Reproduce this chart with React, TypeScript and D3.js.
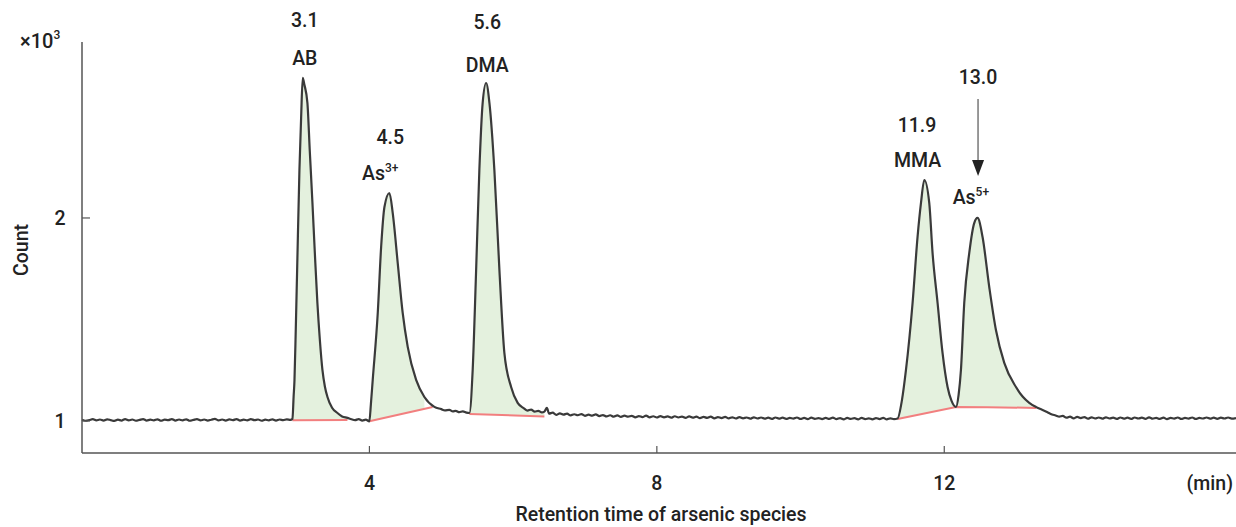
import React from "react";
import * as d3 from "d3";

// ---------- DATA ----------
// Chromatogram trace: [retention time (min), count (x10^3)]
const trace: [number, number][] = [
  [0.0, 1.006], [0.05, 1.001], [0.1, 1.004], [0.15, 1.009], [0.2, 1.003], [0.25, 1.007], [0.3, 1.002],
  [0.35, 1.008], [0.4, 1.004], [0.45, 1.0], [0.5, 1.006], [0.55, 1.002], [0.6, 1.009], [0.65, 1.003],
  [0.7, 1.007], [0.75, 1.001], [0.8, 1.005], [0.85, 1.009], [0.9, 1.002], [0.95, 1.006], [1.0, 1.003],
  [1.05, 1.008], [1.1, 1.001], [1.15, 1.006], [1.2, 1.004], [1.25, 1.009], [1.3, 1.002], [1.35, 1.007],
  [1.4, 1.003], [1.45, 1.008], [1.5, 1.001], [1.55, 1.005], [1.6, 1.009], [1.65, 1.003], [1.7, 1.007],
  [1.75, 1.002], [1.8, 1.006], [1.85, 1.01], [1.9, 1.003], [1.95, 1.007], [2.0, 1.002], [2.05, 1.008],
  [2.1, 1.004], [2.15, 1.009], [2.2, 1.002], [2.25, 1.006], [2.3, 1.003], [2.35, 1.009], [2.4, 1.004],
  [2.45, 1.007], [2.5, 1.001], [2.55, 1.006], [2.6, 1.003], [2.65, 1.008], [2.7, 1.002], [2.75, 1.007],
  [2.8, 1.004], [2.85, 1.008], [2.9, 1.005],
  // AB
  [2.929, 1.01], [2.945, 1.12], [2.957, 1.2], [2.975, 1.45], [2.994, 1.744], [3.026, 2.236], [3.05, 2.5],
  [3.072, 2.69], [3.096, 2.655], [3.137, 2.567], [3.17, 2.33], [3.207, 2.074], [3.24, 1.83],
  [3.276, 1.581], [3.31, 1.4], [3.346, 1.251], [3.38, 1.17], [3.416, 1.118], [3.48, 1.065],
  [3.555, 1.039], [3.62, 1.022], [3.694, 1.015], [3.75, 1.008], [3.8, 1.004], [3.85, 1.009],
  [3.9, 1.002], [3.95, 1.006], [3.999, 0.998],
  // As3+
  [4.02, 1.08], [4.046, 1.202], [4.116, 1.532], [4.163, 1.857], [4.209, 2.054], [4.278, 2.123],
  [4.324, 2.025], [4.394, 1.778], [4.463, 1.532], [4.533, 1.365], [4.65, 1.202],
  [4.765, 1.118], [4.904, 1.069], [5.0, 1.058], [5.05, 1.052], [5.113, 1.054], [5.16, 1.047],
  [5.2, 1.05], [5.25, 1.043], [5.3, 1.047], [5.35, 1.041], [5.391, 1.039],
  // DMA
  [5.437, 1.251], [5.485, 1.744], [5.53, 2.236], [5.576, 2.567], [5.624, 2.665],
  [5.67, 2.567], [5.739, 2.236], [5.809, 1.744], [5.878, 1.335], [5.972, 1.167],
  [6.063, 1.089], [6.15, 1.062], [6.2, 1.051], [6.25, 1.056], [6.3, 1.046], [6.35, 1.05],
  [6.4, 1.042], [6.435, 1.046], [6.47, 1.064], [6.5, 1.036], [6.55, 1.041], [6.6, 1.03],
  [6.65, 1.037], [6.7, 1.031], [6.75, 1.036], [6.8, 1.027], [6.85, 1.033], [6.9, 1.028],
  [6.95, 1.034], [7.0, 1.025], [7.05, 1.031], [7.1, 1.026], [7.15, 1.032], [7.2, 1.024],
  [7.25, 1.029], [7.3, 1.022], [7.35, 1.028], [7.4, 1.021], [7.45, 1.027], [7.5, 1.02],
  [7.55, 1.026], [7.6, 1.021], [7.65, 1.025], [7.7, 1.018], [7.75, 1.024], [7.8, 1.019],
  [7.85, 1.026], [7.9, 1.018], [7.95, 1.023], [8.0, 1.017], [8.05, 1.024], [8.1, 1.018],
  [8.15, 1.022], [8.2, 1.016], [8.25, 1.023], [8.3, 1.017], [8.35, 1.021], [8.4, 1.015],
  [8.45, 1.022], [8.5, 1.016], [8.55, 1.021], [8.6, 1.014], [8.65, 1.02], [8.7, 1.015],
  [8.75, 1.021], [8.8, 1.013], [8.85, 1.019], [8.9, 1.014], [8.95, 1.02], [9.0, 1.013],
  [9.05, 1.018], [9.1, 1.012], [9.15, 1.019], [9.2, 1.013], [9.25, 1.017], [9.3, 1.011],
  [9.35, 1.018], [9.4, 1.012], [9.45, 1.017], [9.5, 1.011], [9.55, 1.016], [9.6, 1.01],
  [9.65, 1.017], [9.7, 1.011], [9.75, 1.016], [9.8, 1.01], [9.85, 1.015], [9.9, 1.011],
  [9.95, 1.017], [10.0, 1.01], [10.05, 1.015], [10.1, 1.009], [10.15, 1.016], [10.2, 1.01],
  [10.25, 1.014], [10.3, 1.009], [10.35, 1.015], [10.4, 1.01], [10.45, 1.016], [10.5, 1.009],
  [10.55, 1.014], [10.6, 1.008], [10.65, 1.015], [10.7, 1.01], [10.75, 1.014], [10.8, 1.008],
  [10.85, 1.015], [10.9, 1.009], [10.95, 1.013], [11.0, 1.008], [11.05, 1.014], [11.1, 1.009],
  [11.15, 1.015], [11.2, 1.008], [11.25, 1.013], [11.3, 1.009], [11.35, 1.012],
  // MMA
  [11.41, 1.1], [11.467, 1.251], [11.559, 1.581], [11.628, 1.906], [11.676, 2.074], [11.722, 2.187],
  [11.791, 2.074], [11.837, 1.828], [11.907, 1.581], [11.976, 1.335], [12.046, 1.167],
  [12.1, 1.1], [12.163, 1.069],
  // As5+
  [12.2, 1.13], [12.232, 1.251], [12.278, 1.581], [12.348, 1.828], [12.417, 1.975], [12.463, 2.0],
  [12.533, 1.906], [12.626, 1.66], [12.719, 1.448], [12.835, 1.286], [12.998, 1.167],
  [13.09, 1.12], [13.183, 1.089], [13.28, 1.068], [13.367, 1.054], [13.43, 1.044], [13.5, 1.032],
  [13.55, 1.027], [13.6, 1.021], [13.65, 1.025], [13.7, 1.016], [13.75, 1.021], [13.8, 1.013],
  [13.85, 1.02], [13.9, 1.014], [13.95, 1.019], [14.0, 1.011], [14.05, 1.018], [14.1, 1.012],
  [14.15, 1.017], [14.2, 1.011], [14.25, 1.018], [14.3, 1.012], [14.35, 1.016], [14.4, 1.01],
  [14.45, 1.017], [14.5, 1.011], [14.55, 1.016], [14.6, 1.01], [14.65, 1.017], [14.7, 1.012],
  [14.75, 1.016], [14.8, 1.01], [14.85, 1.018], [14.9, 1.011], [14.95, 1.015], [15.0, 1.01],
  [15.05, 1.016], [15.1, 1.009], [15.15, 1.015], [15.2, 1.011], [15.25, 1.017], [15.3, 1.01],
  [15.35, 1.015], [15.4, 1.011], [15.45, 1.017], [15.5, 1.01], [15.55, 1.015], [15.6, 1.012],
  [15.65, 1.017], [15.7, 1.011], [15.75, 1.016], [15.8, 1.01], [15.85, 1.016], [15.9, 1.012],
  [15.95, 1.017], [16.0, 1.011], [16.06, 1.014],
];

// Integration baselines (red) per peak: [time, count]
const integrationBaselines: [number, number][][] = [
  [[2.929, 1.003], [3.694, 1.005]],
  [[3.999, 0.998], [4.88, 1.069]],
  [[5.391, 1.034], [6.435, 1.022]],
  [[11.35, 1.01], [12.163, 1.069], [12.6, 1.068], [13.28, 1.064]],
];

// Peak annotations
const peakNames = ["AB", "As", "DMA", "MMA", "As"];
const peakCharges = ["", "3+", "", "", "5+"];
const retentionLabels = ["3.1", "4.5", "5.6", "11.9", "13.0"];

const xTicks = [4, 8, 12];
const yTicks = [1, 2];

// ---------- LAYOUT ----------
const W = 1236;
const H = 527;
const axisLeft = 82;
const axisRight = 1236;
const axisTop = 42;
const axisBottom = 453;
const FONT = "Roboto, 'Noto Sans', sans-serif";
const FS = 19.5;
const TXT = "#222";

// layout for labels (x position in minutes, y baselines in px)
const labelX = [3.1, 4.29, 5.64, 11.62, 12.47];
const nameX = [3.1, 4.15, 5.64, 11.63, 12.37];
const numberY = [27, 144, 29, 132, 84];
const nameY = [65, 180, 72, 167, 204];

export default function App() {
  const x = d3.scaleLinear().domain([0, 16.06]).range([axisLeft, axisRight]);
  const y = d3.scaleLinear().domain([0.842, 2.867]).range([axisBottom, axisTop]);

  const line = d3
    .line<[number, number]>()
    .x((d) => x(d[0]))
    .y((d) => y(d[1]));
  const smooth = d3
    .line<[number, number]>()
    .x((d) => x(d[0]))
    .y((d) => y(d[1]))
    .curve(d3.curveMonotoneX);

  const fills = integrationBaselines.map((bl) => {
    const t0 = bl[0][0];
    const t1 = bl[bl.length - 1][0];
    const base = d3
      .scaleLinear()
      .domain(bl.map((p) => p[0]))
      .range(bl.map((p) => p[1]));
    const pts = trace.filter((p) => p[0] >= t0 - 1e-9 && p[0] <= t1 + 1e-9);
    const area = d3
      .area<[number, number]>()
      .x((d) => x(d[0]))
      .y0((d) => y(base(d[0])))
      .y1((d) => y(Math.max(d[1], base(d[0]))))
      .curve(d3.curveMonotoneX);
    return area(pts) || "";
  });

  const arrowX = x(labelX[4]);

  return (
    <svg width={W} height={H} style={{ display: "block", position: "absolute", left: 0, top: 0 }}
      fontFamily={FONT}>
      <rect width={W} height={H} fill="#fff" />
      {fills.map((d, i) => (
        <path key={"f" + i} d={d} fill="#e4f1de" stroke="none" />
      ))}
      {integrationBaselines.map((bl, i) => (
        <path key={"b" + i} d={line(bl) || ""} fill="none" stroke="#f27f7f" strokeWidth={2} />
      ))}
      <path d={smooth(trace) || ""} fill="none" stroke="#3a3a3a" strokeWidth={2.2} strokeLinejoin="round" />

      {/* axes */}
      <line x1={axisLeft} x2={axisLeft} y1={axisTop} y2={axisBottom} stroke="#555" strokeWidth={1.5} />
      <line x1={axisLeft} x2={axisRight} y1={axisBottom} y2={axisBottom} stroke="#555" strokeWidth={1.5} />
      {xTicks.map((t) => (
        <g key={"xt" + t}>
          <line x1={x(t)} x2={x(t)} y1={axisBottom} y2={axisBottom - 7} stroke="#555" strokeWidth={1.2} />
          <text x={x(t)} y={490} textAnchor="middle" fontSize={FS} fontWeight={500} fill={TXT}>
            {t}
          </text>
        </g>
      ))}
      {yTicks.map((t) => (
        <g key={"yt" + t}>
          <line x1={axisLeft} x2={axisLeft + 8} y1={y(t)} y2={y(t)} stroke="#555" strokeWidth={1.2} />
          <text x={60} y={y(t) + 7} textAnchor="middle" fontSize={FS} fontWeight={500} fill={TXT}>
            {t}
          </text>
        </g>
      ))}
      <text x={1233} y={490} textAnchor="end" fontSize={FS} fontWeight={500} fill={TXT}>
        (min)
      </text>
      <text x={661} y={521} textAnchor="middle" fontSize={FS} fontWeight={500} fill={TXT}>
        Retention time of arsenic species
      </text>
      <text transform="translate(28,250) rotate(-90)" textAnchor="middle" fontSize={FS} fontWeight={500} fill={TXT}>
        Count
      </text>
      <text x={20} y={48} fontSize={20} fontWeight={500} fill={TXT}>
        ×10<tspan fontSize={12} dy={-9}>3</tspan>
      </text>

      {/* peak labels */}
      {peakNames.map((n, i) => (
        <g key={"pl" + i}>
          <text x={x(labelX[i])} y={numberY[i]} textAnchor="middle" fontSize={FS} fontWeight={500} fill={TXT}>
            {retentionLabels[i]}
          </text>
          <text x={x(nameX[i])} y={nameY[i]} textAnchor="middle" fontSize={FS} fontWeight={500} fill={TXT}>
            {n}
            {peakCharges[i] ? (
              <tspan fontSize={12} dy={-8}>
                {peakCharges[i]}
              </tspan>
            ) : null}
          </text>
        </g>
      ))}
      <line x1={arrowX} x2={arrowX} y1={99} y2={162} stroke="#777" strokeWidth={1.5} />
      <path d={`M${arrowX - 6},${160} L${arrowX + 6},${160} L${arrowX},${176} Z`} fill="#222" />
    </svg>
  );
}
